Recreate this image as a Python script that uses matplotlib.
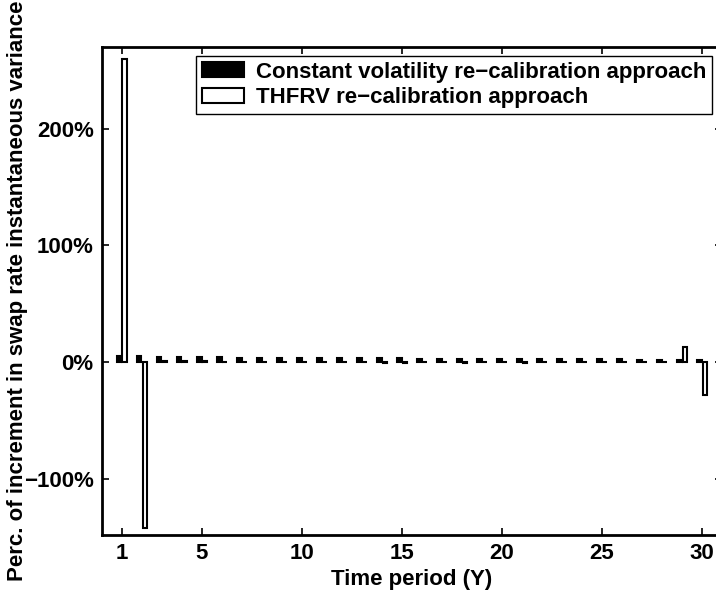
import numpy as np
import matplotlib
matplotlib.use('Agg')
import matplotlib.pyplot as plt
from matplotlib.ticker import FuncFormatter

# Time periods (years) and percentage increments
periods = np.arange(1, 31)
const_vol = [5, 5, 4.5, 4.5, 4.5, 4.5, 4, 4, 4, 4, 4, 3.5, 3.5, 3.5, 3.5,
             3, 3, 3, 3, 3, 3, 2.5, 2.5, 2.5, 2.5, 2.5, 2, 2, 2, 2]
thfrv = [260, -142, 1, 1, 1, 0.5, 0.5, 0.5, 0.5, 0.5, 0, 0, 0, -1, -1,
         0, 0, -1, 0, 0, -1, 0, 0, 0, 0, 0, 0, 0, 13, -28]
labels = ['Constant volatility re\u2212calibration approach',
          'THFRV re\u2212calibration approach']
x_ticks = [1, 5, 10, 15, 20, 25, 30]

plt.rcParams['font.family'] = ['Liberation Sans', 'DejaVu Sans']
plt.rcParams['font.weight'] = 'bold'
plt.rcParams['font.size'] = 16

fig = plt.figure(figsize=(7.16, 5.94), dpi=100)
ax = fig.add_axes([102/716, 1 - 535/594, 620/716, 488/594])

w = 0.23
b1 = ax.bar(periods - 0.14, const_vol, width=w, color='black',
            edgecolor='black', linewidth=1.5, label=labels[0])
b2 = ax.bar(periods + 0.14, thfrv, width=w, color='white',
            edgecolor='black', linewidth=1.5, label=labels[1])

ax.set_xlim(0, 31)
ax.set_ylim(-148, 270)
ax.set_xticks(x_ticks)
ax.set_yticks([-100, 0, 100, 200])
ax.yaxis.set_major_formatter(FuncFormatter(
    lambda v, p: ('\u2212%d%%' % -v) if v < 0 else '%d%%' % v))
ax.tick_params(direction='in', length=5, width=1.2, top=True, right=True,
               labelsize=16, pad=6)
for s in ax.spines.values():
    s.set_linewidth(2)

ax.set_xlabel('Time period (Y)', fontsize=16, fontweight='bold', labelpad=3)
ax.set_ylabel('Perc. of increment in swap rate instantaneous variance',
              fontsize=16, fontweight='bold', labelpad=-3)

leg = fig.legend(handles=[b1, b2], loc='upper right',
                 bbox_to_anchor=(712/716, 1 - 56/594), frameon=True,
                 fancybox=False, edgecolor='black', framealpha=1,
                 handlelength=1.9, handleheight=0.65, handletextpad=0.55,
                 labelspacing=0.2, borderpad=0.25, borderaxespad=0,
                 prop={'weight': 'bold', 'size': 16})
leg.get_frame().set_linewidth(1)

fig.savefig('out.png', dpi=100)
